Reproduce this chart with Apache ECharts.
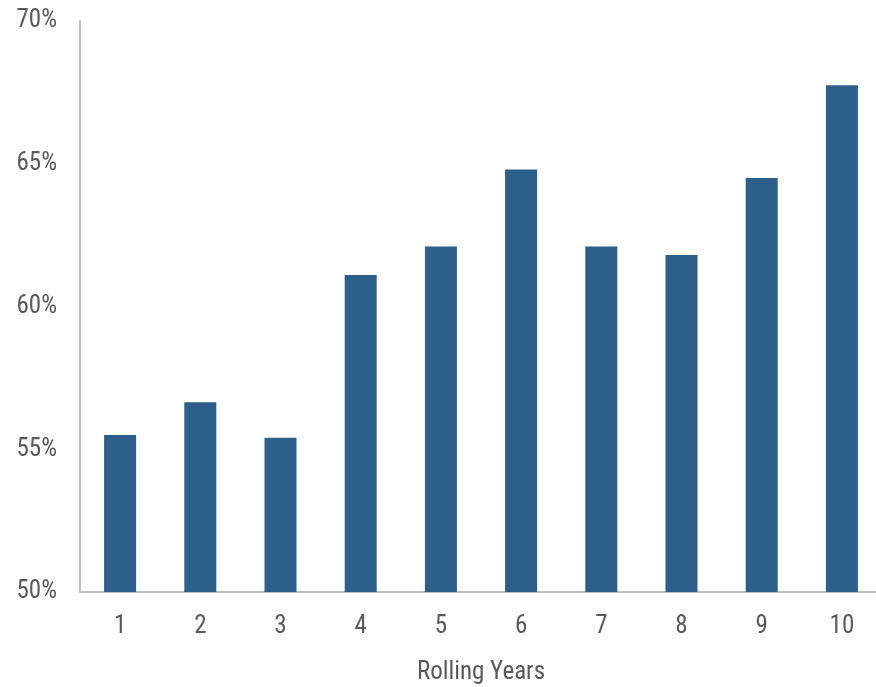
<!DOCTYPE html>
<html>
<head>
<meta charset="utf-8">
<script src="https://cdn.jsdelivr.net/npm/echarts@6/dist/echarts.min.js"></script>
<style>
  html, body { margin: 0; padding: 0; background: #fff; }
  #chart { width: 876px; height: 687px; }
</style>
</head>
<body>
<div id="chart"></div>
<script>
var years = ['1', '2', '3', '4', '5', '6', '7', '8', '9', '10'];
var shares = [55.5, 56.65, 55.4, 61.1, 62.1, 64.8, 62.1, 61.8, 64.5, 67.75];
var yTicks = [50, 55, 60, 65, 70];

var myChart = echarts.init(document.getElementById('chart'));
var fontName = "'Liberation Sans Narrow', 'Arial Narrow', 'Roboto Condensed', sans-serif";

var option = {
    animation: false,
    grid: {
        left: 80,
        right: -6,
        top: 21,
        bottom: 95,
        outerBoundsMode: 'none',
        containLabel: false
    },
    xAxis: {
        type: 'category',
        data: years,
        name: 'Rolling Years',
        nameLocation: 'middle',
        nameGap: 68,
        nameTextStyle: { color: '#595959', fontSize: 25, fontFamily: fontName },
        axisLine: { lineStyle: { color: '#bfbfbf', width: 2 } },
        axisTick: { show: false },
        axisLabel: { color: '#595959', fontSize: 25, fontFamily: fontName, margin: 22 }
    },
    yAxis: {
        type: 'value',
        min: yTicks[0],
        max: yTicks[yTicks.length - 1],
        interval: 5,
        axisLine: { show: true, lineStyle: { color: '#bfbfbf', width: 2 } },
        axisTick: { show: false },
        splitLine: { show: false },
        axisLabel: {
            color: '#595959', fontSize: 25, fontFamily: fontName, margin: 23,
            formatter: function (v) { return v + '%'; }
        }
    },
    series: [{
        type: 'bar',
        data: shares,
        barWidth: 32,
        itemStyle: { color: '#2d5f8b' }
    }]
};

option && myChart.setOption(option);
</script>
</body>
</html>
